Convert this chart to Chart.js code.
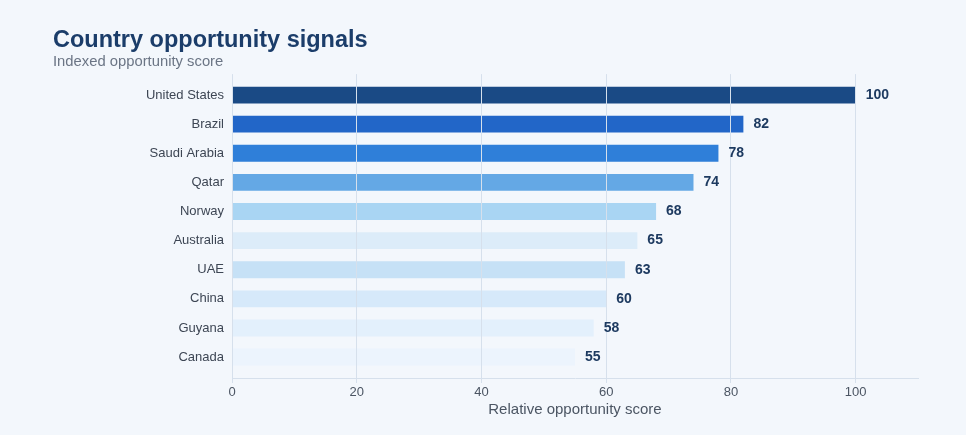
<!DOCTYPE html>
<html>
<head>
<meta charset="utf-8">
<title>Country opportunity signals</title>
<script src="https://cdn.jsdelivr.net/npm/chart.js@4.4.1/dist/chart.umd.min.js"></script>
<style>
  html, body { margin: 0; padding: 0; background: #f3f7fc; }
  #wrap { width: 966px; height: 435px; position: relative; }
</style>
</head>
<body>
<div id="wrap"><canvas id="oppChart"></canvas></div>
<script>
// data
const countries = ["United States", "Brazil", "Saudi Arabia", "Qatar", "Norway",
                   "Australia", "UAE", "China", "Guyana", "Canada"];
const scores = [100, 82, 78, 74, 68, 65, 63, 60, 58, 55];
const barColors = ["#1a4a85", "#2266c8", "#2f7fd9", "#64a8e5", "#a9d5f3",
                   "#dcecf9", "#c6e1f6", "#d6e9fa", "#e3f0fc", "#ecf4fd"];
const xTicks = [0, 20, 40, 60, 80, 100];

Chart.defaults.font.family = '"Liberation Sans", Arial, sans-serif';

// value labels at the end of every bar (drawn last so grid lines stay underneath)
const valueLabels = {
    id: "valueLabels",
    afterDraw(chart) {
        const ctx = chart.ctx;
        const meta = chart.getDatasetMeta(0);
        ctx.save();
        ctx.font = 'bold 14px "Liberation Sans", Arial, sans-serif';
        ctx.fillStyle = "#1d3a60";
        ctx.textAlign = "left";
        ctx.textBaseline = "middle";
        meta.data.forEach((bar, i) => {
            ctx.fillText(String(scores[i]), bar.x + 10, bar.y);
        });
        ctx.restore();
    }
};

new Chart(document.getElementById("oppChart").getContext("2d"), {
    type: "bar",
    data: {
        datasets: [{
            label: "Opportunity score",
            data: scores.map((v, i) => ({ x: v, y: i })),
            backgroundColor: barColors,
            borderWidth: 0,
            barPercentage: 0.58,
            categoryPercentage: 1
        }]
    },
    options: {
        indexAxis: "y",
        responsive: true,
        maintainAspectRatio: false,
        animation: false,
        layout: { padding: { left: 53, right: 48, top: 10, bottom: 17.4 } },
        plugins: {
            legend: { display: false },
            tooltip: { enabled: false },
            title: {
                display: true,
                text: "Country opportunity signals",
                align: "start",
                color: "#1b3d6a",
                font: { size: 23.5, weight: "bold", lineHeight: 1.1 },
                padding: { top: 17.5, bottom: 0 }
            },
            subtitle: {
                display: true,
                text: "Indexed opportunity score",
                align: "start",
                color: "#6b7585",
                font: { size: 14.8, lineHeight: 1.2 },
                padding: { top: 0, bottom: 3 }
            }
        },
        scales: {
            x: {
                type: "linear",
                min: 0,
                max: 110,
                afterBuildTicks: (s) => { s.ticks = xTicks.map(v => ({ value: v })); },
                grid: { color: "#d6e0ec", lineWidth: 1, tickLength: 5, z: 1 },
                border: { display: true, color: "#d6e0ec", z: 1 },
                ticks: { color: "#4b5563", font: { size: 13 }, padding: 2 },
                title: {
                    display: true,
                    text: "Relative opportunity score",
                    color: "#4b5563",
                    font: { size: 15, lineHeight: 1 },
                    padding: 0
                }
            },
            y: {
                type: "linear",
                reverse: true,
                offset: false,
                min: -0.72,
                max: 9.72,
                afterBuildTicks: (s) => { s.ticks = countries.map((c, i) => ({ value: i })); },
                afterFit: (s) => { s.width = 179; },
                grid: { display: false, drawTicks: false, offset: false },
                border: { display: false },
                ticks: {
                    autoSkip: false,
                    color: "#3d4654",
                    font: { size: 13 },
                    padding: 8,
                    callback: (v) => countries[v] || ""
                }
            }
        }
    },
    plugins: [valueLabels]
});
</script>
</body>
</html>
